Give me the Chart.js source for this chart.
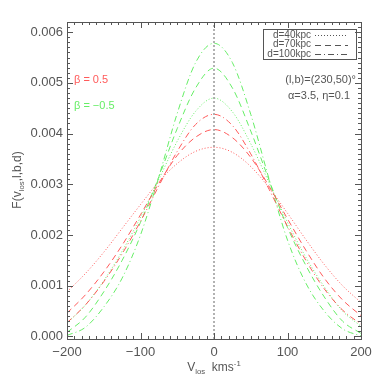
<!DOCTYPE html>
<html>
<head>
<meta charset="utf-8">
<script src="https://cdn.jsdelivr.net/npm/chart.js@4/dist/chart.umd.min.js"></script>
<style>
  html, body { margin: 0; padding: 0; background: #fff; }
  #wrap { width: 382px; height: 382px; }
</style>
</head>
<body>
<div id="wrap"><canvas id="chart" width="382" height="382"></canvas></div>
<script>
// line-of-sight velocity grid (km/s)
const vlos = [-200, -175, -150, -125, -100, -75, -50, -25, 0, 25, 50, 75, 100, 125, 150, 175, 200];

// beta = 0.5 (red)
const red40  = [0.00088, 0.00124, 0.00166, 0.00213, 0.00260, 0.00305, 0.00341, 0.00365, 0.00373, 0.00363, 0.00335, 0.00293, 0.00243, 0.00191, 0.00142, 0.00100, 0.00067];
const red70  = [0.00046, 0.00082, 0.00127, 0.00180, 0.00240, 0.00302, 0.00357, 0.00393, 0.00408, 0.00392, 0.00353, 0.00296, 0.00232, 0.00170, 0.00115, 0.00072, 0.00041];
const red100 = [0.00027, 0.00062, 0.00108, 0.00163, 0.00227, 0.00297, 0.00365, 0.00418, 0.00438, 0.00416, 0.00360, 0.00290, 0.00217, 0.00150, 0.00094, 0.00052, 0.00024];

// beta = -0.5 (green)
const green40  = [0.00026, 0.00062, 0.00110, 0.00168, 0.00235, 0.00310, 0.00385, 0.00444, 0.00470, 0.00443, 0.00380, 0.00303, 0.00225, 0.00156, 0.00098, 0.00050, 0.00020];
const green70  = [0.00008, 0.00038, 0.00088, 0.00150, 0.00225, 0.00315, 0.00410, 0.00490, 0.00529, 0.00490, 0.00405, 0.00308, 0.00215, 0.00140, 0.00078, 0.00030, 0.00006];
const green100 = [0.00002, 0.00018, 0.00058, 0.00115, 0.00200, 0.00315, 0.00440, 0.00540, 0.00578, 0.00540, 0.00438, 0.00310, 0.00190, 0.00105, 0.00050, 0.00015, 0.00001];

const xTicks = [-200, -100, 0, 100, 200];
const yTicks = [0.000, 0.001, 0.002, 0.003, 0.004, 0.005, 0.006];
const legendLabels = ['d=40kpc', 'd=70kpc', 'd=100kpc'];

const RED = '#ff5a5a';
const GREEN = '#66ee66';
const AXIS = '#555';
const DOT = [1, 2];
const DASH = [6, 4];
const DASHDOT = [6, 3, 1, 3];
const FONT = '"Liberation Sans", Arial, sans-serif';

function pts(arr) {
    return vlos.map((v, i) => ({ x: v, y: arr[i] }));
}

function line(label, arr, color, dash) {
    return {
        label: label,
        data: pts(arr),
        borderColor: color,
        borderWidth: 1,
        borderDash: dash,
        pointRadius: 0,
        cubicInterpolationMode: 'monotone',
        fill: false
    };
}

// text with sub/superscripts drawn on the canvas
function richWidth(ctx, parts, size) {
    let w = 0;
    parts.forEach(p => {
        ctx.font = (p.sub || p.sup ? size * 0.65 : size) + 'px ' + FONT;
        w += ctx.measureText(p.t).width;
    });
    return w;
}

function drawRich(ctx, parts, x, y, size) {
    let cx = x;
    parts.forEach(p => {
        const s = p.sub || p.sup ? size * 0.65 : size;
        ctx.font = s + 'px ' + FONT;
        let dy = 0;
        if (p.sub) dy = size * 0.25;
        if (p.sup) dy = -size * 0.4;
        ctx.fillText(p.t, cx, y + dy);
        cx += ctx.measureText(p.t).width;
    });
}

const framePlugin = {
    id: 'frame',
    afterDraw(chart) {
        const ctx = chart.ctx;
        const a = chart.chartArea;
        const xs = chart.scales.x;
        const ys = chart.scales.y;
        ctx.save();
        ctx.strokeStyle = AXIS;
        ctx.lineWidth = 1;
        ctx.setLineDash([]);
        ctx.strokeRect(a.left + 0.5, a.top + 0.5, a.right - a.left, a.bottom - a.top);

        // inward ticks on all sides
        ctx.beginPath();
        for (let v = -200; v <= 200; v += 10) {
            const px = Math.round(xs.getPixelForValue(v)) + 0.5;
            const len = v % 100 === 0 ? 6 : 3;
            ctx.moveTo(px, a.bottom); ctx.lineTo(px, a.bottom - len);
            ctx.moveTo(px, a.top); ctx.lineTo(px, a.top + len);
        }
        for (let k = 0; k <= 62; k++) {
            const py = Math.round(ys.getPixelForValue(k * 0.0001)) + 0.5;
            const len = k % 10 === 0 ? 6 : 3;
            ctx.moveTo(a.left, py); ctx.lineTo(a.left + len, py);
            ctx.moveTo(a.right, py); ctx.lineTo(a.right - len, py);
        }
        ctx.stroke();

        // axis titles
        ctx.fillStyle = AXIS;
        ctx.textBaseline = 'alphabetic';
        const xt = [{ t: 'V' }, { t: 'los', sub: true }, { t: '  kms' }, { t: '-1', sup: true }];
        const xw = richWidth(ctx, xt, 12);
        drawRich(ctx, xt, (a.left + a.right) / 2 - xw / 2, 371, 12);

        ctx.save();
        ctx.translate(21, 180);
        ctx.rotate(-Math.PI / 2);
        const yt = [{ t: 'F(v' }, { t: 'los', sub: true }, { t: ',l,b,d)' }];
        const yw = richWidth(ctx, yt, 12);
        drawRich(ctx, yt, -yw / 2, 0, 12);
        ctx.restore();

        // legend box
        const lx = 263, ly = 29, lw = 93, lh = 30;
        ctx.strokeRect(lx + 0.5, ly + 0.5, lw, lh);
        const dashes = [DOT, DASH, DASHDOT];
        ctx.font = '10px ' + FONT;
        ctx.textAlign = 'right';
        ctx.textBaseline = 'middle';
        legendLabels.forEach((lab, i) => {
            const yy = ly + 6 + i * 9.5;
            ctx.fillText(lab, 311, yy);
            ctx.setLineDash(dashes[i]);
            ctx.beginPath();
            ctx.moveTo(315, Math.round(yy) + 0.5);
            ctx.lineTo(348, Math.round(yy) + 0.5);
            ctx.stroke();
        });
        ctx.setLineDash([]);

        // annotations
        ctx.font = '11px ' + FONT;
        ctx.textAlign = 'right';
        ctx.fillText('(l,b)=(230,50)\u00b0', 356, 80);
        ctx.textAlign = 'left';
        ctx.fillText('\u03b1=3.5, \u03b7=0.1', 288, 96);
        ctx.fillStyle = RED;
        ctx.fillText('\u03b2 = 0.5', 74, 80);
        ctx.fillStyle = GREEN;
        ctx.fillText('\u03b2 = \u22120.5', 74, 106);
        ctx.restore();
    }
};

new Chart(document.getElementById('chart'), {
    type: 'line',
    data: {
        datasets: [
            {
                label: 'v=0',
                data: [{ x: 0, y: -0.00005 }, { x: 0, y: 0.0062 }],
                borderColor: '#999',
                borderWidth: 1.5,
                borderDash: [2, 2],
                pointRadius: 0
            },
            line('red d=40', red40, RED, DOT),
            line('red d=70', red70, RED, DASH),
            line('red d=100', red100, RED, DASHDOT),
            line('green d=40', green40, GREEN, DOT),
            line('green d=70', green70, GREEN, DASH),
            line('green d=100', green100, GREEN, DASHDOT)
        ]
    },
    options: {
        responsive: false,
        animation: false,
        layout: { padding: { top: 22, right: 21, left: 0, bottom: 0 } },
        plugins: {
            legend: { display: false },
            tooltip: { enabled: false }
        },
        scales: {
            x: {
                type: 'linear',
                min: -200,
                max: 200,
                afterBuildTicks: s => { s.ticks = xTicks.map(v => ({ value: v })); },
                afterFit: s => { s.height = 43; },
                grid: { display: false, drawTicks: false },
                border: { display: false },
                ticks: {
                    padding: 6,
                    color: AXIS,
                    font: { family: FONT, size: 13 },
                    maxRotation: 0,
                    callback: v => v < 0 ? '\u2212' + Math.abs(v) : String(v)
                }
            },
            y: {
                type: 'linear',
                min: -0.00005,
                max: 0.0062,
                afterBuildTicks: s => { s.ticks = yTicks.map(v => ({ value: v })); },
                afterFit: s => { s.width = 67; },
                grid: { display: false, drawTicks: false },
                border: { display: false },
                ticks: {
                    padding: 4,
                    color: AXIS,
                    font: { family: FONT, size: 13 },
                    callback: v => v.toFixed(3)
                }
            }
        }
    },
    plugins: [framePlugin]
});
</script>
</body>
</html>
